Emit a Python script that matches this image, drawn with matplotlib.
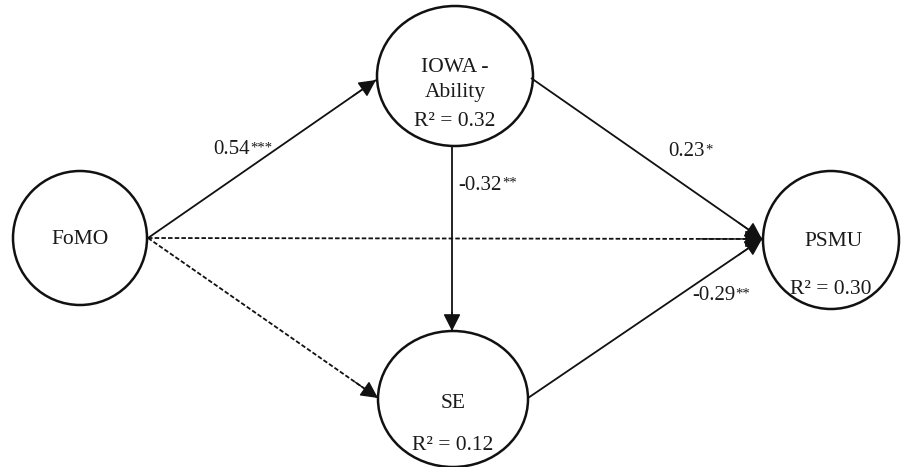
import matplotlib.pyplot as plt
from matplotlib.patches import Ellipse, FancyArrowPatch

plt.rcParams['font.family'] = ['Liberation Serif', 'DejaVu Serif']

# node names and R^2 values (None = exogenous)
nodes = ['FoMO', 'IOWA -\nAbility', 'SE', 'PSMU']
r2 = [None, 0.32, 0.12, 0.30]

# paths: (from, to, coefficient, stars, dashed)
path_from = [0, 0, 0, 1, 1, 2]
path_to = [1, 3, 2, 3, 2, 3]
coefs = [0.54, None, None, 0.23, -0.32, -0.29]
stars = ['***', '', '', '*', '**', '**']
dashed = [False, True, True, False, False, False]

# layout (pixel coords, y down)
centers = [(80, 238), (455, 76), (453, 399), (831, 240)]
radii = [(67, 67), (78, 70), (75, 68), (68, 69)]
starts = [(148, 238), (148, 238), (148, 238), (531, 78), (452, 146), (528, 398)]
ends = [(376, 80), (762, 239), (378, 398), (762, 239), (452, 331), (762, 239)]
label_pos = [(213, 150), None, None, (668, 152), (458, 185), (692, 296)]
text_pos = {0: [(80, 240)],
            1: [(455, 68), (455, 93)],
            2: [(453, 403)],
            3: [(834, 241)]}
r2_pos = [None, (455, 122), (453, 445), (831, 289)]

fig = plt.figure(figsize=(9.01, 4.67), dpi=100)
ax = fig.add_axes([0, 0, 1, 1])
ax.set_xlim(0, 901)
ax.set_ylim(467, 0)
ax.axis('off')

for i, name in enumerate(nodes):
    (cx, cy), (rx, ry) = centers[i], radii[i]
    ax.add_patch(Ellipse((cx, cy), 2 * rx, 2 * ry, fill=False, lw=1.8, ec='#111111'))
    for line, (tx, ty) in zip(name.split('\n'), text_pos[i]):
        ax.text(tx, ty, line, ha='center', va='center', fontsize=15.5, color='#1a1a1a')
    if r2[i] is not None:
        ax.text(r2_pos[i][0], r2_pos[i][1], f'R² = {r2[i]:.2f}', ha='center', va='center',
                fontsize=15.5, color='#1a1a1a')

for k in range(len(path_from)):
    (x0, y0), (x1, y1) = starts[k], ends[k]
    ls = (0, (2.5, 1.2)) if dashed[k] else '-'
    ax.plot([x0, x1], [y0, y1], color='#111111', lw=1.3, linestyle=ls, solid_capstyle='butt')
    # solid arrow head on the last short piece
    f = 0.9
    hx, hy = x0 + f * (x1 - x0), y0 + f * (y1 - y0)
    ax.add_patch(FancyArrowPatch((hx, hy), (x1, y1),
                                 arrowstyle='-|>,head_length=0.75,head_width=0.38',
                                 mutation_scale=14, shrinkA=0, shrinkB=0, lw=1.0,
                                 color='#111111'))

fig.canvas.draw()
r = fig.canvas.get_renderer()
for k in range(len(coefs)):
    if coefs[k] is None:
        continue
    x, y = label_pos[k]
    t = ax.text(x, y, f'{coefs[k]:.2f}', ha='left', va='center', fontsize=15, color='#1a1a1a')
    bb = t.get_window_extent(renderer=r)
    p = ax.transData.inverted().transform((bb.x1, bb.y1))
    ax.text(p[0] + 0.5, p[1] + 1, stars[k], ha='left', va='top', fontsize=10.5, color='#1a1a1a')

fig.savefig('out.png', dpi=100)
